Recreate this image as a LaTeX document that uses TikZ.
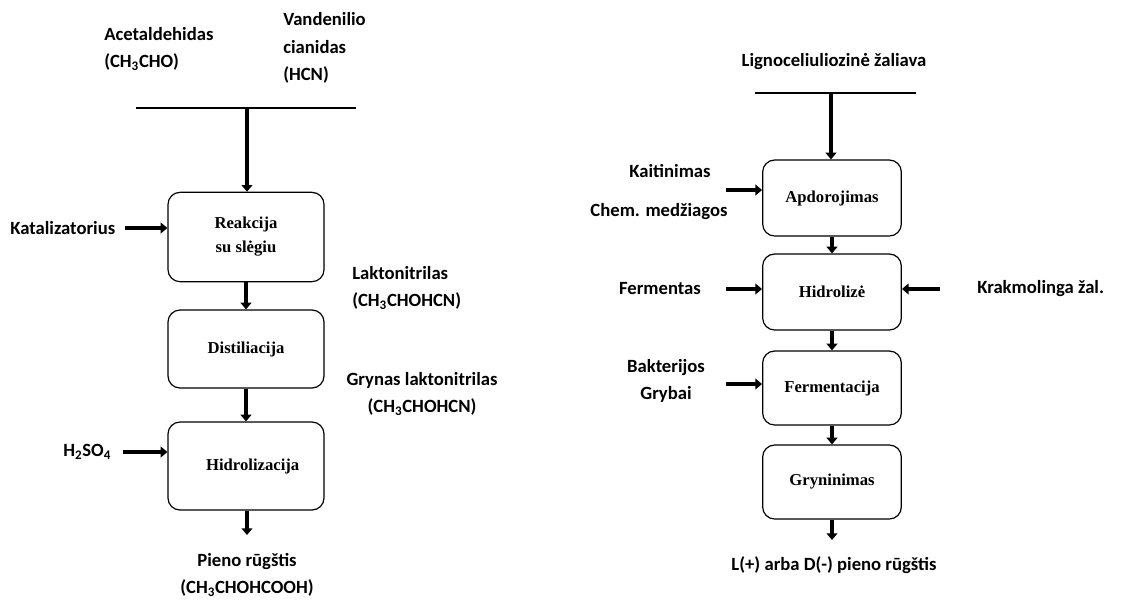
\documentclass[tikz,border=0pt]{standalone}
\usepackage{fontspec}
\setmainfont{Liberation Serif}
\newfontfamily\labfont{Carlito}
\usetikzlibrary{positioning,arrows.meta}
\tikzset{
  box/.style={draw=black, line width=0.9pt, rounded corners=9pt, fill=white, align=center,
              inner sep=2pt, font=\fontsize{12.5}{18}\selectfont\bfseries},
  lbl/.style={font=\labfont\bfseries\fontsize{14}{20.8}\selectfont, inner sep=0pt},
  feed/.style={-{Triangle[length=5pt,width=8pt]}, line width=3.4pt},
  bar/.style={line width=2pt},
}
\begin{document}
\begin{tikzpicture}[x=0.75pt, y=-0.75pt,
                    box/.append style={minimum width=117pt}]
    \useasboundingbox (0,0) rectangle (1142,601);

    % left chain
    \node[lbl, anchor=west, align=left] (acet) at (104,49) {Acetaldehidas\\(CH\textsubscript{3}CHO)};
    \node[lbl, anchor=west, align=left] (hcn)  at (283,48) {Vandenilio\\cianidas\\(HCN)};
    \coordinate (barL1) at (136,108);
    \coordinate (barR1) at (356,108);
    \coordinate (top1)  at (247,108);
    \draw[bar] (barL1) -- (barR1);

    \node[box, minimum height=67pt] (reak) at (246,237) {Reakcija\\su slėgiu};
    \node[box, minimum height=58.5pt] (dist) at (246,349) {Distiliacija};
    \node[box, minimum height=66pt] (hidr) at (246,466) {\hspace*{10pt}Hidrolizacija};

    \node[lbl, anchor=west] (kat) at (10,228) {Katalizatorius};
    \node[lbl, anchor=west] (acid) at (63,452) {H\textsubscript{2}SO\textsubscript{4}};
    \node[lbl, anchor=west, align=left] (lakt) at (352,288) {Laktonitrilas\\(CH\textsubscript{3}CHOHCN)};
    \node[lbl, align=center] (gryn) at (422,394) {Grynas laktonitrilas\\(CH\textsubscript{3}CHOHCN)};
    \node[lbl, align=center] (pieno) at (247,575) {Pieno rūgštis\\(CH\textsubscript{3}CHOHCOOH)};
    \coordinate (out1) at (247,535);
    \coordinate (in1)  at (125,228);
    \coordinate (in2)  at (123,452);

    \draw[feed] (top1) -- (top1 |- reak.north);
    \draw[feed] (in1) -- (in1 -| reak.west);
    \draw[feed] (reak) -- (dist);
    \draw[feed] (dist) -- (hidr);
    \draw[feed] (in2) -- (in2 -| hidr.west);
    \draw[feed] (hidr.south -| out1) -- (out1);

    % right chain
    \node[lbl] (lig) at (834,62) {Lignoceliuliozinė žaliava};
    \coordinate (barL2) at (755,93);
    \coordinate (barR2) at (916,93);
    \coordinate (top2)  at (831,93);
    \draw[bar] (barL2) -- (barR2);

    \node[box, minimum width=104pt, minimum height=57pt] (apd) at (832,198) {Apdorojimas};
    \node[box, minimum width=104pt, minimum height=57pt] (hid) at (832,292) {Hidrolizė};
    \node[box, minimum width=104pt, minimum height=55.5pt] (fer) at (832,388) {Fermentacija};
    \node[box, minimum width=104pt, minimum height=55.5pt] (gry) at (832,482) {Gryninimas};

    \node[lbl] (kait) at (670,171) {Kaitinimas};
    \node[lbl] (chem) at (659,212) {Chem. medžiagos};
    \node[lbl] (ferm) at (660,289) {Fermentas};
    \node[lbl, anchor=west] (krak) at (977,289) {Krakmolinga žal.};
    \node[lbl, align=center] (bakt) at (666,381) {Bakterijos\\Grybai};
    \node[lbl] (fin) at (834,565) {L(+) arba D(-) pieno rūgštis};
    \coordinate (in3) at (726,190);
    \coordinate (in4) at (726,289);
    \coordinate (in5) at (940,289);
    \coordinate (in6) at (726,384);
    \coordinate (out2) at (832,540);

    \draw[feed] (top2) -- (top2 |- apd.north);
    \draw[feed] (in3) -- (in3 -| apd.west);
    \draw[feed] (apd) -- (hid);
    \draw[feed] (in4) -- (in4 -| hid.west);
    \draw[feed] (in5) -- (in5 -| hid.east);
    \draw[feed] (hid) -- (fer);
    \draw[feed] (in6) -- (in6 -| fer.west);
    \draw[feed] (fer) -- (gry);
    \draw[feed] (gry) -- (out2);
\end{tikzpicture}
\end{document}
